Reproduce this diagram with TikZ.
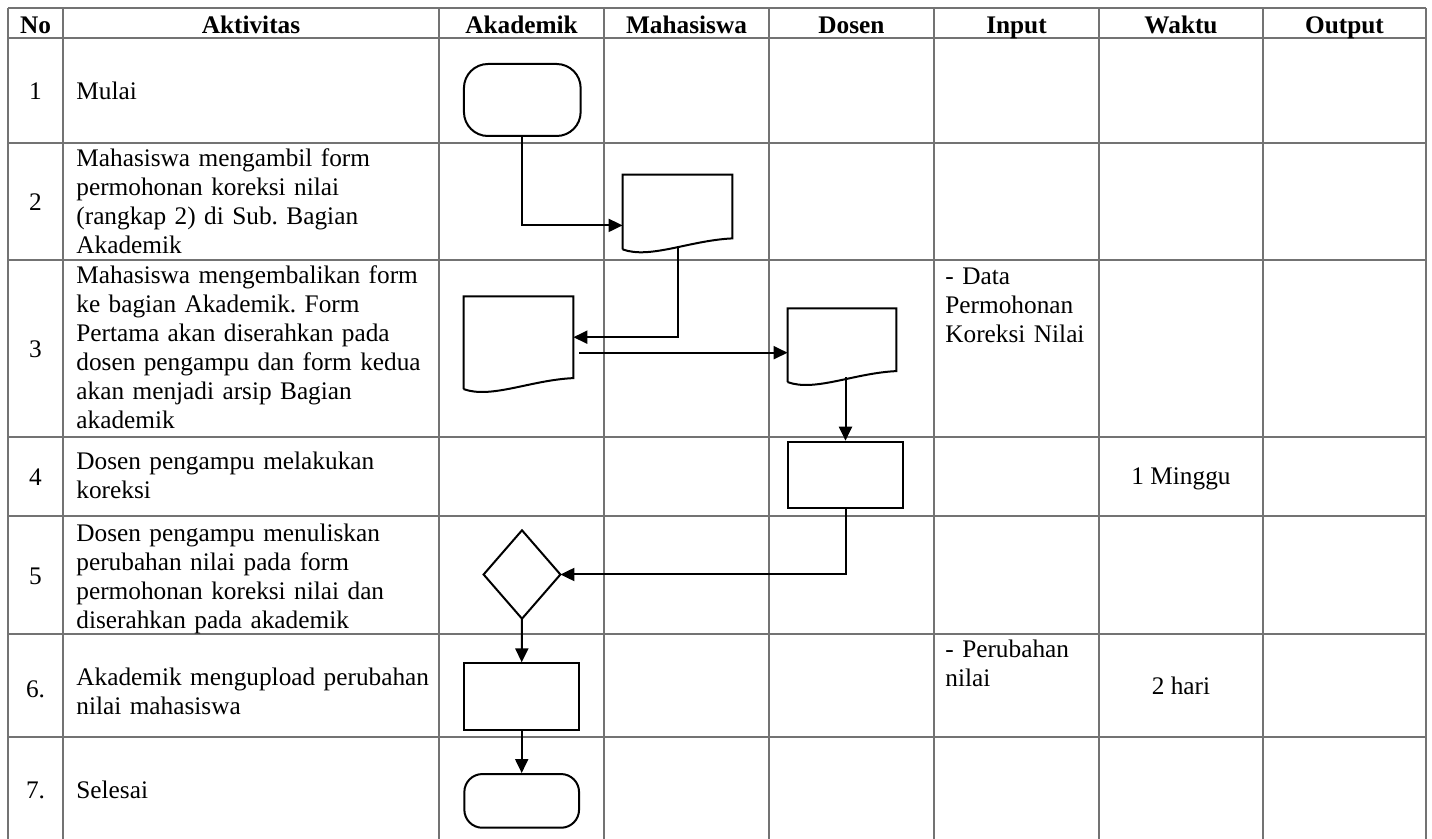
\documentclass[tikz,border=0pt]{standalone}
\usepackage{fontspec}
\setmainfont{Liberation Serif}
\usetikzlibrary{arrows.meta,calc}
\frenchspacing
\newcommand\docoutline[1]{%
  \draw[shp] ($(#1.south west)+(0,11)$) -- (#1.north west) -- (#1.north east) -- (#1.south east)
    .. controls ($(#1.south west)!0.61!(#1.south east)+(0,2)$) and ($(#1.south west)!0.25!(#1.south east)+(0,21)$) .. ($(#1.south west)+(0,11)$);}
\begin{document}
\begin{tikzpicture}[x=0.5pt,y=-0.5pt,
  gridline/.style={draw=black!55, line width=0.8pt},
  shp/.style={draw=black, line width=1pt},
  arr/.style={draw=black, line width=1pt, -{Triangle[length=7pt,width=6.5pt]}},
  term/.style={shp, rectangle, inner sep=0pt},
  proc/.style={shp, rectangle, inner sep=0pt},
  docrect/.style={rectangle, inner sep=0pt, draw=none},
  dec/.style={rectangle, inner sep=0pt, draw=none, minimum width=38pt, minimum height=43.8pt},
  txt/.style={font=\fontsize{12.65}{14.5}\selectfont, inner sep=0pt, align=left, text width=185pt, anchor=base west},
  intxt/.style={txt, text width=80pt},
  hd/.style={font=\fontsize{12.65}{14.5}\selectfont\bfseries, inner sep=0pt, anchor=base},
  ctr/.style={font=\fontsize{12.65}{14.5}\selectfont, inner sep=0pt, anchor=base},
  num/.style={font=\fontsize{12.65}{14.5}\selectfont, inner sep=0pt, anchor=center},
]
\useasboundingbox (0,0) rectangle (1432,839);
% grid
\foreach \x in {8,63,439,604,769,934,1099,1263,1426} \draw[gridline] (\x,8) -- (\x,839);
\foreach \y in {8,38,143,260,437,516,634,737} \draw[gridline] (8,\y) -- (1426,\y);
% header
\node[hd] (hNo) at (35.5,33.3) {No};
\node[hd] (hAkt) at (251,33.3) {Aktivitas};
\node[hd] (hAka) at (521.5,33.3) {Akademik};
\node[hd] (hMhs) at (686.5,33.3) {Mahasiswa};
\node[hd] (hDos) at (851.5,33.3) {Dosen};
\node[hd] (hIn) at (1016.5,33.3) {Input};
\node[hd] (hWkt) at (1181,33.3) {Waktu};
\node[hd] (hOut) at (1344.5,33.3) {Output};
% numbers
\node[num] (n1) at (35.5,91) {1};
\node[num] (n2) at (35.5,202) {2};
\node[num] (n3) at (35.5,349) {3};
\node[num] (n4) at (35.5,477) {4};
\node[num] (n5) at (35.5,576) {5};
\node[num] (n6) at (35.5,689) {6.};
\node[num] (n7) at (35.5,790) {7.};
% activities
\node[txt] (a1) at (76,100) {Mulai};
\node[txt] (a2) at (76,166.7) {Mahasiswa mengambil form\\permohonan koreksi nilai\\(rangkap 2) di Sub. Bagian\\Akademik};
\node[txt] (a3) at (76,284) {Mahasiswa mengembalikan form\\ke bagian Akademik. Form\\Pertama akan diserahkan pada\\dosen pengampu dan form kedua\\akan menjadi arsip Bagian\\akademik};
\node[txt] (a4) at (76,470) {Dosen pengampu melakukan\\koreksi};
\node[txt] (a5) at (76,541.7) {Dosen pengampu menuliskan\\perubahan nilai pada form\\permohonan koreksi nilai dan\\diserahkan pada akademik};
\node[txt] (a6) at (76,686) {Akademik mengupload perubahan\\nilai mahasiswa};
\node[txt] (a7) at (76,799) {Selesai};
% input / waktu
\node[intxt] (in3) at (945,284.3) {- Data\\Permohonan\\Koreksi Nilai};
\node[intxt] (in6) at (945,658) {- Perubahan\\nilai};
\node[ctr] (w4) at (1181,485) {1 Minggu};
\node[ctr] (w6) at (1181,695) {2 hari};
% shapes
\node[term, rounded corners=12pt, minimum width=58.35pt, minimum height=36pt] (t1) at (522.3,100) {};
\node[docrect, minimum width=54.5pt, minimum height=31.5pt] (d1) at (677.5,206.5) {};
\docoutline{d1}
\node[docrect, minimum width=54.5pt, minimum height=40.5pt] (d2) at (518.5,337.2) {};
\docoutline{d2}
\node[docrect, minimum width=54pt, minimum height=31pt] (d3) at (842,339.7) {};
\docoutline{d3}
\node[proc, minimum width=57.2pt, minimum height=33.3pt] (p4) at (845.5,475) {};
\node[dec] (dm) at (522,574.5) {};
\draw[shp] (dm.north) -- (dm.east) -- (dm.south) -- (dm.west) -- cycle;
\node[proc, minimum width=57.35pt, minimum height=33.5pt] (p6) at (521.7,696.8) {};
\node[term, rounded corners=9pt, minimum width=57.35pt, minimum height=26.85pt] (t7) at (521.7,800.9) {};
% connectors
\draw[arr] (t1.south) |- ($(d1.south west)+(0,-13)$);
\draw[arr] ($(d1.south)+(0,10)$) |- (d2.east);
\coordinate (a3s) at ($(d2.east)+(6,15.5)$);
\draw[arr] (a3s) -- (a3s -| d3.west);
\draw[arr] ($(p4.north |- d3.south)+(0,6)$) -- (p4.north);
\draw[arr] (p4.south) |- (dm.east);
\draw[arr] (dm.south) -- (p6.north);
\draw[arr] (p6.south) -- (t7.north);
\end{tikzpicture}
\end{document}
